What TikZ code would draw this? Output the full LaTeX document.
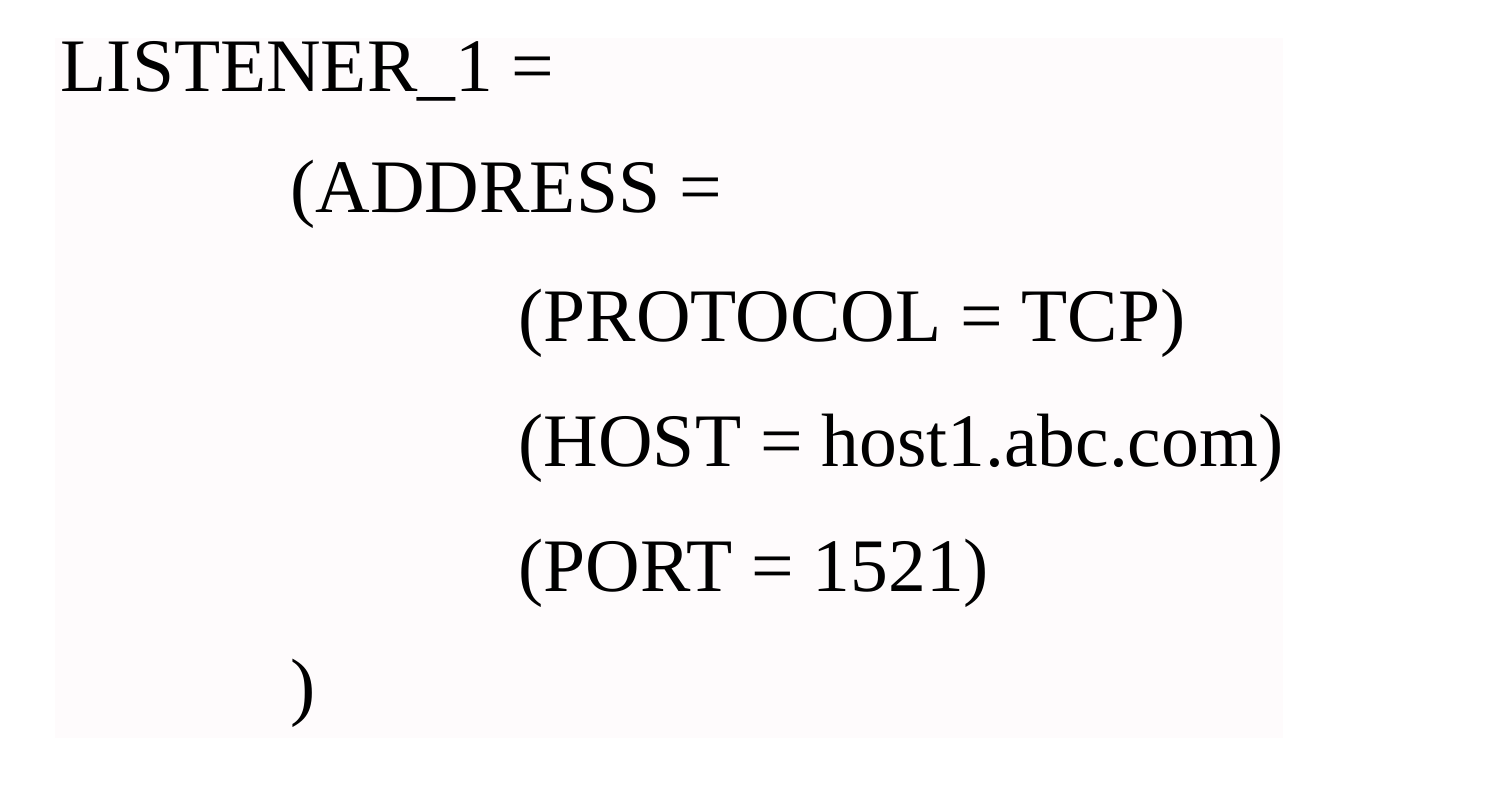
\documentclass[tikz,border=0pt]{standalone}
\usepackage{fontspec}
\setmainfont{Liberation Serif}
\usepackage{tikz}
\definecolor{paper}{HTML}{FEFBFC}
\tikzstyle{line}=[anchor=base west,inner sep=0pt,font=\fontsize{21.5pt}{26pt}\selectfont]
\tikzstyle{sheet}=[fill=paper,draw=none]

\begin{document}
\begin{tikzpicture}
                    \useasboundingbox (0,0) rectangle (15.10,-8.12);
                    \fill [sheet] (0.55,-0.38) rectangle (12.83,-7.38);

                    \node (listener) at (0.60,-0.92) [line] {LISTENER\_1 =};
                    \node (address) at (2.90,-2.13) [line] {(ADDRESS =};
                    \node (protocol) at (5.18,-3.42) [line] {(PROTOCOL = TCP)};
                    \node (host) at (5.18,-4.67) [line] {(HOST = host1.abc.com)};
                    \node (port) at (5.18,-5.92) [line] {(PORT = 1521)};
                    \node (close) at (2.90,-7.12) [line] {)};
                \end{tikzpicture}
\end{document}
